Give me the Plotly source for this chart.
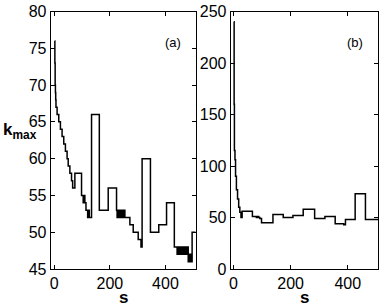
import plotly.graph_objects as go

# Panel (a) data: breakpoints of the step curve (s, k_max)
s_a = [1, 2, 3, 4, 5, 6, 10, 16, 22, 28, 34, 40, 46, 50, 56, 62, 66, 74, 98, 104, 108, 110, 114, 120, 124, 126, 134, 162, 194,
       224, 226, 228, 230, 232, 234, 236, 238, 240, 242, 244, 246, 248, 250, 252, 254,
       256, 272, 284, 302, 312, 316, 346, 376, 404, 432,
       442, 444, 446, 448, 450, 452, 454, 456, 458, 460, 462, 464, 466, 468, 470, 472, 474, 476, 478, 480,
       482, 484, 486, 488, 490, 492, 494,
       496, 508]
k_a = [76, 73, 70, 69, 68, 67, 66, 65, 64, 63, 62, 61, 60, 59, 58, 57, 56, 58, 55, 54, 55, 54, 53, 52, 53, 52, 66, 53, 56,
       53, 52, 53, 52, 53, 52, 53, 52, 53, 52, 53, 52, 53, 52, 53, 52,
       52, 51, 50, 49, 48, 60, 50, 51, 54, 48,
       47, 48, 47, 48, 47, 48, 47, 48, 47, 48, 47, 48, 47, 48, 47, 48, 47, 48, 47, 48,
       46, 47, 46, 47, 46, 47, 46,
       50, 50]

# Panel (b) data
s_b = [1, 2, 3, 5, 7, 10, 14, 18, 22, 26, 30, 66, 80, 84, 88, 92, 98, 138, 174, 208, 244, 284, 320, 356, 386, 392, 426, 462, 506]
k_b = [240, 160, 115, 106, 90, 77, 68, 60, 55, 50, 56, 51, 50, 51, 50, 49, 45, 53, 50, 52, 58, 49, 51, 44, 43, 48, 73, 48, 48]

a_yticks = [45, 50, 55, 60, 65, 70, 75, 80]
b_yticks = [0, 50, 100, 150, 200, 250]
x_ticks = [0, 200, 400]

W, H = 382, 306
FONT = "Liberation Sans, Arial, Helvetica, sans-serif"

fig = go.Figure()
fig.add_trace(go.Scatter(x=s_a, y=k_a, mode="lines", line=dict(color="black", width=1.5, shape="hv"),
                         xaxis="x", yaxis="y", showlegend=False))
fig.add_trace(go.Scatter(x=s_b, y=k_b, mode="lines", line=dict(color="black", width=1.5, shape="hv"),
                         xaxis="x2", yaxis="y2", showlegend=False))

ax_common = dict(showline=True, linecolor="black", linewidth=1, mirror="ticks", ticks="inside",
                 ticklen=4, tickcolor="black", showgrid=False, zeroline=False, automargin=False,
                 tickfont=dict(family=FONT, size=16, color="black"))

ya_dom = [(H - 269) / H, (H - 11.5) / H]
fig.update_layout(
    width=W, height=H,
    margin=dict(l=0, r=0, t=0, b=0, pad=0, autoexpand=False),
    paper_bgcolor="white", plot_bgcolor="white",
    xaxis=dict(domain=[50.7 / W, 196 / W], range=[-13, 510], tickvals=x_ticks, anchor="y", **ax_common),
    yaxis=dict(domain=ya_dom, range=[45, 80], tickvals=a_yticks, anchor="x", **ax_common),
    xaxis2=dict(domain=[230.7 / W, 378 / W], range=[-10, 506], tickvals=x_ticks, anchor="y2", **ax_common),
    yaxis2=dict(domain=ya_dom, range=[0, 250], tickvals=b_yticks, anchor="x2", **ax_common),
)

ann = [
    dict(text="(a)", x=173, y=43),
    dict(text="(b)", x=355, y=43),
]
for a in ann:
    fig.add_annotation(text=a["text"], x=a["x"] / W, y=1 - a["y"] / H, xref="paper", yref="paper",
                       showarrow=False, font=dict(family=FONT, size=13, color="black"),
                       xanchor="center", yanchor="middle")

fig.add_annotation(text="<b>s</b>", x=123.4 / W, y=1 - 297 / H, xref="paper", yref="paper", showarrow=False,
                   font=dict(family=FONT, size=17, color="black"), xanchor="center", yanchor="middle")
fig.add_annotation(text="<b>s</b>", x=304.4 / W, y=1 - 297 / H, xref="paper", yref="paper", showarrow=False,
                   font=dict(family=FONT, size=17, color="black"), xanchor="center", yanchor="middle")
fig.add_annotation(text="<b>k</b><sub><b>max</b></sub>", x=1 / W, y=1 - 131 / H, xref="paper", yref="paper",
                   showarrow=False, font=dict(family=FONT, size=17, color="black"),
                   xanchor="left", yanchor="middle")

fig.write_html("out.html", config={"displayModeBar": False},
               post_script="document.body.style.margin='0px';document.body.style.overflow='hidden';")
